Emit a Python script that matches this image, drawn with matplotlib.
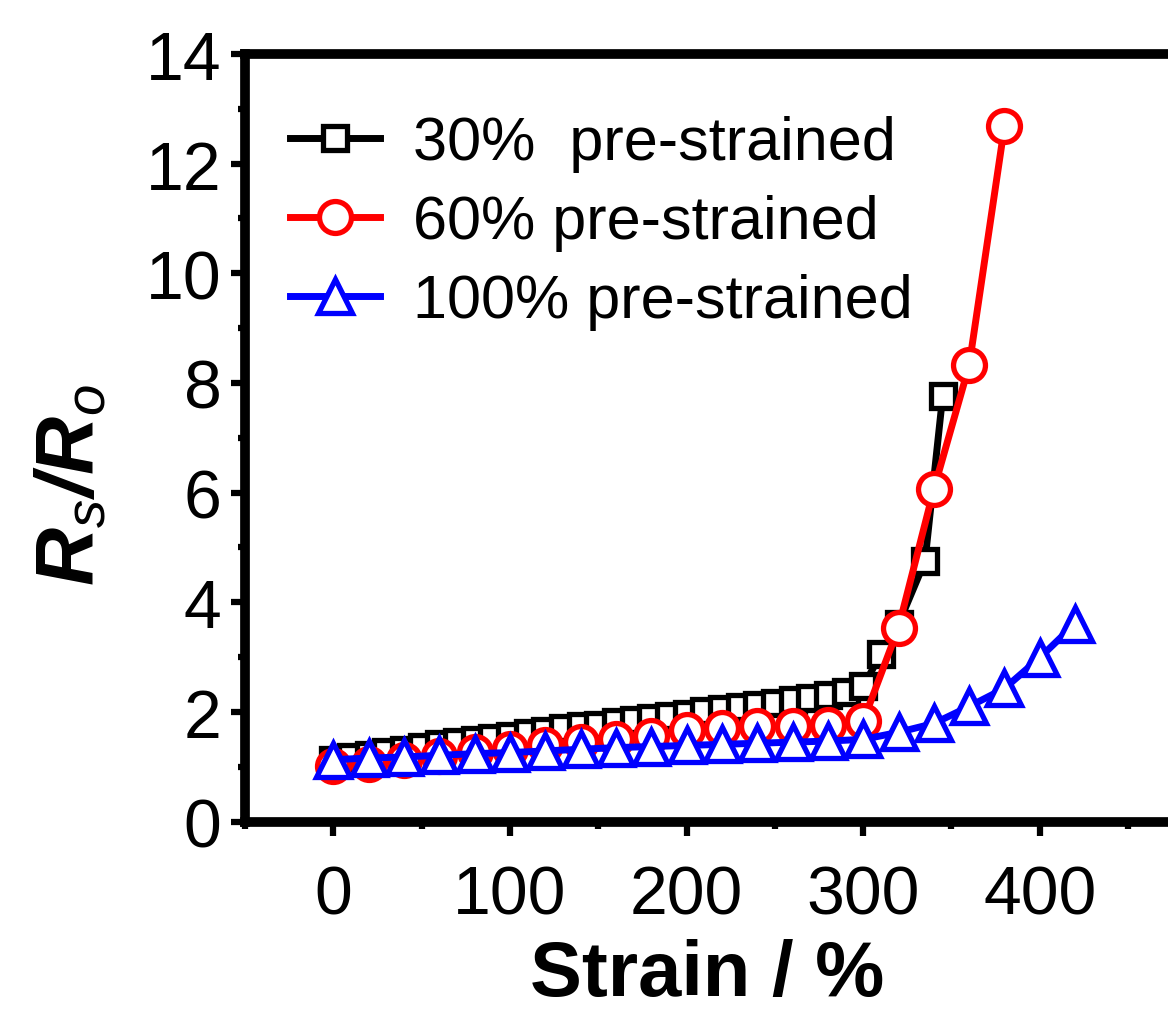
import numpy as np
import matplotlib
matplotlib.use('Agg')
import matplotlib.pyplot as plt
from matplotlib.ticker import MultipleLocator

plt.rcParams['font.family'] = ['Liberation Sans', 'DejaVu Sans']
plt.rcParams['mathtext.fontset'] = 'custom'
plt.rcParams['mathtext.rm'] = 'Liberation Sans'
plt.rcParams['mathtext.it'] = 'Liberation Sans:italic'
plt.rcParams['mathtext.bf'] = 'Liberation Sans:bold'
plt.rcParams['mathtext.bfit'] = 'Liberation Sans:bold:italic'

# 30% pre-strained (black squares)
strain_30 = [0, 10, 20, 30, 40, 50, 60, 70, 80, 90, 100, 110, 120, 130, 140, 150,
             160, 170, 180, 190, 200, 210, 220, 230, 240, 250, 260, 270, 280, 290,
             300, 310, 320, 335, 345]
ratio_30 = [1.12, 1.17, 1.22, 1.27, 1.31, 1.36, 1.41, 1.45, 1.49, 1.53, 1.57, 1.61,
            1.66, 1.70, 1.74, 1.77, 1.81, 1.85, 1.89, 1.93, 1.97, 2.01, 2.05, 2.09,
            2.13, 2.17, 2.21, 2.26, 2.31, 2.36, 2.47, 3.05, 3.60, 4.75, 7.76]

# 60% pre-strained (red circles)
strain_60 = [0, 20, 40, 60, 80, 100, 120, 140, 160, 180, 200, 220, 240, 260, 280,
             300, 320, 340, 360, 380]
ratio_60 = [1.02, 1.05, 1.12, 1.20, 1.27, 1.33, 1.40, 1.46, 1.51, 1.57, 1.67, 1.71,
            1.74, 1.75, 1.77, 1.83, 3.54, 6.06, 8.32, 12.68]

# 100% pre-strained (blue triangles)
strain_100 = [0, 20, 40, 60, 80, 100, 120, 140, 160, 180, 200, 220, 240, 260, 280,
              300, 320, 340, 360, 380, 400, 420]
ratio_100 = [1.13, 1.16, 1.18, 1.21, 1.24, 1.26, 1.29, 1.32, 1.35, 1.37, 1.39, 1.41,
             1.43, 1.45, 1.47, 1.50, 1.63, 1.79, 2.10, 2.43, 2.99, 3.61]

labels = ['30%  pre-strained', '60% pre-strained', '100% pre-strained']

fig = plt.figure(figsize=(11.68, 10.12), dpi=100)
# axes runs a bit past the right edge, like the cropped original
ax = fig.add_axes([0.2098, 0.1871, 0.8014, 0.7586])

ax.plot(strain_30, ratio_30, color='black', lw=5, marker='s', ms=17,
        mfc='white', mec='black', mew=3.8, label=labels[0])
ax.plot(strain_60, ratio_60, color='red', lw=5, marker='o', ms=23,
        mfc='white', mec='red', mew=3.8, label=labels[1])
ax.plot(strain_100, ratio_100, color='blue', lw=5, marker='^', ms=25,
        mfc='white', mec='blue', mew=3.8, label=labels[2])

ax.set_xlim(-50, 480)
ax.set_ylim(0, 14)
ax.xaxis.set_major_locator(MultipleLocator(100))
ax.xaxis.set_minor_locator(MultipleLocator(50))
ax.yaxis.set_major_locator(MultipleLocator(2))
ax.yaxis.set_minor_locator(MultipleLocator(1))

for s in ax.spines.values():
    s.set_linewidth(7)
ax.tick_params(which='major', direction='out', length=10, width=4.5, labelsize=49)
ax.tick_params(which='minor', direction='out', length=5, width=4.5)
ax.tick_params(axis='x', which='major', pad=20)
ax.tick_params(axis='y', which='major', pad=7)

ax.set_xlabel('Strain / %', fontsize=56, fontweight='bold')
ax.xaxis.set_label_coords(0.476 * 0.832 / 0.8014, -0.152)
ax.set_ylabel(r'$\mathbfit{R}_{\mathit{s}}\mathbfit{/R}_{\mathit{o}}$', fontsize=58)
ax.yaxis.set_label_coords(-0.138 * 0.832 / 0.8014, 0.44)

ax.legend(loc='upper left', bbox_to_anchor=(0.048, 0.92), frameon=False,
          fontsize=44, numpoints=1, handlelength=1.47, handletextpad=0.54,
          labelspacing=0.36, borderpad=0, borderaxespad=0)

fig.savefig('out.png', dpi=100)
